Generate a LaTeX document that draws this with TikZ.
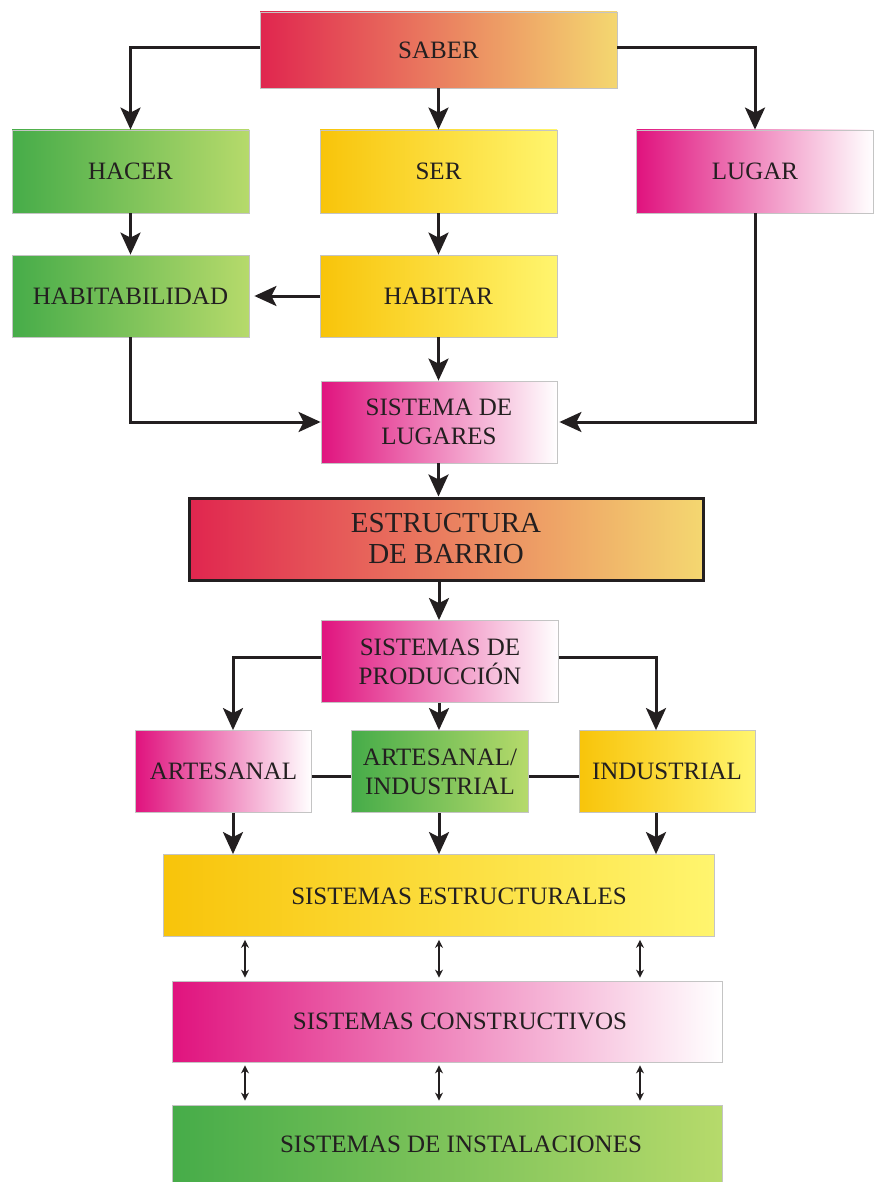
\documentclass[tikz,border=0pt]{standalone}
\usepackage{fontspec}
\setmainfont{Liberation Serif}
\usetikzlibrary{arrows.meta}

\definecolor{ink}{HTML}{231F20}
\definecolor{edge}{HTML}{C4C4C4}
\definecolor{redL}{HTML}{E0264F}
\definecolor{redR}{HTML}{F4D770}
\definecolor{greenL}{HTML}{46AC49}
\definecolor{greenR}{HTML}{B6DA6B}
\definecolor{yellowL}{HTML}{F8C40A}
\definecolor{yellowR}{HTML}{FFF56E}
\definecolor{pinkL}{HTML}{E0137E}
\definecolor{pinkR}{HTML}{FFFFFF}

\tikzset{
  box/.style={draw=edge, line width=0.8pt, inner sep=0pt, align=center,
    minimum width=237pt, minimum height=82pt, text=ink,
    font=\fontsize{25}{29}\selectfont},
  redbox/.style={box, left color=redL, right color=redR},
  greenbox/.style={box, left color=greenL, right color=greenR},
  yellowbox/.style={box, left color=yellowL, right color=yellowR},
  pinkbox/.style={box, left color=pinkL, right color=pinkR},
  label text/.style={text=ink, inner sep=0pt, align=center,
    font=\fontsize{25}{29}\selectfont},
  arr/.style={draw=ink, line width=3pt,
    -{Stealth[length=22pt,width=20pt,inset=5pt]}},
  link/.style={draw=ink, line width=3pt},
  dbl/.style={draw=ink, line width=1.2pt,
    {Stealth[length=8pt,width=8pt]}-{Stealth[length=8pt,width=8pt]}},
}

\begin{document}
\begin{tikzpicture}[x=1pt,y=-1pt]
\useasboundingbox (0,0) rectangle (874,1182);

% column guides for the connectors
\coordinate (xl) at (233,0);
\coordinate (xm) at (439,0);
\coordinate (xr) at (656,0);
\coordinate (dl) at (245,0);
\coordinate (dm) at (439,0);
\coordinate (dr) at (640,0);

% upper part
\node[redbox, minimum width=357pt, minimum height=76pt] (saber) at (438.5,50) {SABER};
\node[greenbox, minimum height=83pt] (hacer) at (130.5,171.5) {HACER};
\node[yellowbox, minimum height=83pt] (ser) at (438.5,171.5) {SER};
\node[pinkbox, minimum height=83pt] (lugar) at (755,171.5) {LUGAR};
\node[greenbox] (habil) at (130.5,296) {HABITABILIDAD};
\node[yellowbox] (habitar) at (438.5,296) {HABITAR};
\node[pinkbox, minimum width=236pt] (sdl) at (439,422) {SISTEMA DE\\LUGARES};

% neighbourhood structure
\node[redbox, draw=ink, line width=3pt, minimum width=514pt,
  font=\fontsize{29}{31}\selectfont] (eb) at (446,539) {ESTRUCTURA\\DE BARRIO};

% production systems
\node[pinkbox] (sdp) at (440,661.5) {SISTEMAS DE\\PRODUCCIÓN};
\node[pinkbox, minimum width=176pt] (art) at (223.5,771.5) {ARTESANAL};
\node[greenbox, minimum width=177pt] (ai) at (440,771.5) {ARTESANAL/\\INDUSTRIAL};
\node[yellowbox, minimum width=176pt] (ind) at (667,771.5) {INDUSTRIAL};

% building systems
\node[yellowbox, minimum width=551pt] (se) at (438.5,895.5) {};
\node[label text] (se-t) at (459,896) {SISTEMAS ESTRUCTURALES};
\node[pinkbox, minimum width=550pt, minimum height=81pt] (sc) at (447,1021.5) {};
\node[label text] (sc-t) at (460,1021.5) {SISTEMAS CONSTRUCTIVOS};
\node[greenbox, minimum width=550pt] (si) at (447,1146) {};
\node[label text] (si-t) at (461,1144) {SISTEMAS DE INSTALACIONES};

% connectors, top to bottom
\draw[arr] ([yshift=2pt]saber.west) -| (hacer.north);
\draw[arr] (saber.south) -- (ser.north);
\draw[arr] ([yshift=2pt]saber.east) -| (lugar.north);
\draw[arr] (hacer.south) -- (habil.north);
\draw[arr] (ser.south) -- (habitar.north);
\draw[arr, shorten >=5pt] (habitar.west) -- (habil.east);
\draw[arr] (habil.south) |- (sdl.west);
\draw[arr, shorten >=2pt] (lugar.south) |- (sdl.east);
\draw[arr] (habitar.south) -- (habitar.south |- sdl.north);
\draw[arr] (sdl.south -| habitar.south) -- (habitar.south |- eb.north);
\draw[arr] (eb.south -| xm) -- (sdp.north -| xm);
\draw[arr] ([yshift=4pt]sdp.west) -| (xl |- art.north);
\draw[arr] (sdp.south -| xm) -- (ai.north -| xm);
\draw[arr] ([yshift=4pt]sdp.east) -| (xr |- ind.north);
\draw[link] ([yshift=-5pt]art.east) -- ([yshift=-5pt]ai.west);
\draw[link] ([yshift=-5pt]ai.east) -- ([yshift=-5pt]ind.west);
\draw[arr] (art.south -| xl) -- (se.north -| xl);
\draw[arr] (ai.south -| xm) -- (se.north -| xm);
\draw[arr] (ind.south -| xr) -- (se.north -| xr);

% two-way links between the building systems
\foreach \c in {dl,dm,dr}{
  \draw[dbl, shorten <=3pt, shorten >=3pt] (se.south -| \c) -- (sc.north -| \c);
  \draw[dbl, shorten <=3pt, shorten >=4pt] (sc.south -| \c) -- (si.north -| \c);
}
\end{tikzpicture}
\end{document}
